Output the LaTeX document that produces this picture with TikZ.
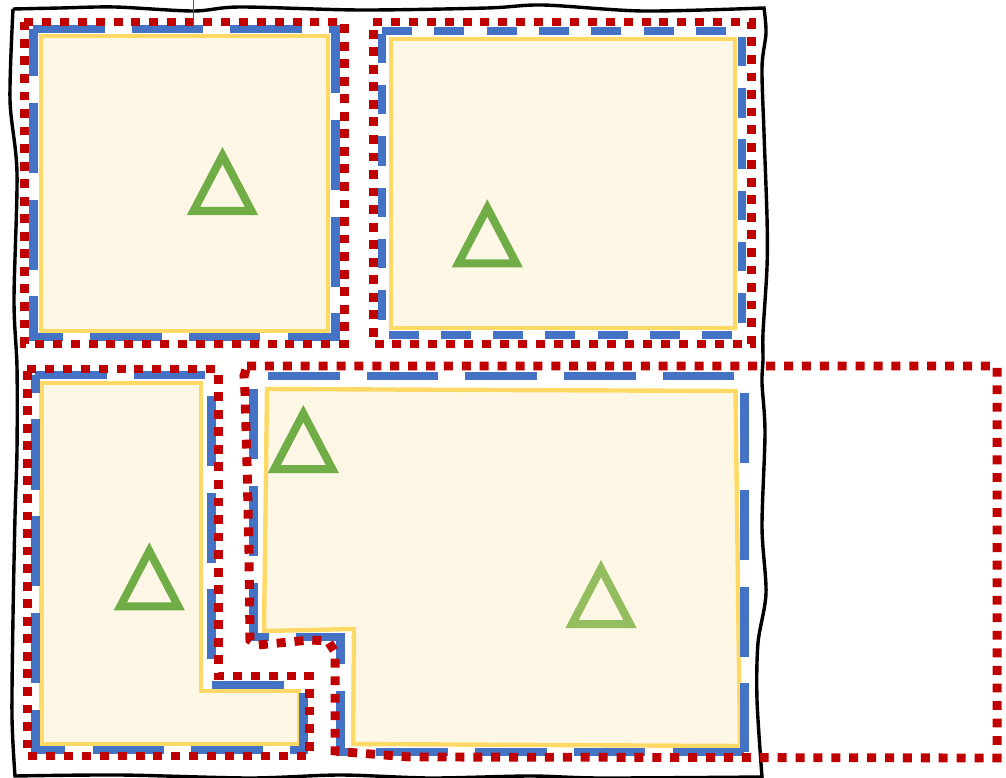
\documentclass[tikz,border=0pt]{standalone}
\usepackage{amsmath,amssymb}

\definecolor{regionred}{HTML}{C00000}
\definecolor{regionblue}{HTML}{4472C4}
\definecolor{regionyellow}{HTML}{FFD966}
\definecolor{regionfill}{HTML}{FFF7E6}
\definecolor{markgreen}{HTML}{70AD47}
\definecolor{marklight}{HTML}{93BD5E}

\begin{document}
\begin{tikzpicture}[x=1pt, y=-1pt,
	outerline/.style={black, line width=3.4pt, line join=miter},
	redline/.style={regionred, line width=9pt, dash pattern=on 9pt off 8.9pt},
	blueline/.style={regionblue, line width=9pt, dash pattern=on 71.5pt off 27.2pt},
	bluefine/.style={regionblue, line width=7.5pt, dash pattern=on 30pt off 22.3pt},
	cellbox/.style={draw=regionyellow, fill=regionfill, line width=4.4pt},
	trimark/.style={line width=8pt, line join=miter}]
	\useasboundingbox (0,0) rectangle (1006,778);
	% hand-drawn frame
	\draw[outerline] plot[smooth, tension=0.5] coordinates {(13,9) (60,8) (115,7) (193,11) (240,7) (360,10) (487,8) (543,5) (643,11) (764,8)}
		-- plot[smooth, tension=0.5] coordinates {(764,8) (766,33) (762,67) (764,133) (767,217) (767,267) (763,333) (763,360) (762,383) (765,433) (762,527) (766,593) (758,643) (757,700) (762,777)}
		-- plot[smooth, tension=0.5] coordinates {(762,777) (600,778) (530,776) (430,778) (340,775) (250,778) (120,775) (15,776)}
		-- plot[smooth, tension=0.5] coordinates {(15,776) (12,717) (13,617) (15,517) (17,450) (17,367) (14,300) (17,173) (10,100) (13,9)};
	% cells
	\draw[cellbox] (41,36) -- (328,36) -- (328,331) -- (41,331) -- cycle;
	\draw[cellbox] (391,39) -- (735,39) -- (735,328) -- (391,328) -- cycle;
	\draw[cellbox] (41.5,383) -- (201,383) -- (201,691) -- (299,691) -- (299,744) -- (41.5,744) -- cycle;
	\draw[cellbox] (267,389) -- (735.5,391) -- (740,746) -- (353,744) -- (354,629) -- (264,631) -- cycle;
	% triangles
	\foreach \tx/\ty in {222.5/155.6, 487.3/208, 149.3/551, 303.3/413.6}
		\draw[trimark, markgreen] (\tx,\ty) -- ++(-29,55.4) -- ++(58,0) -- cycle;
	\draw[trimark, marklight] (601,568.6) -- ++(-29,55.4) -- ++(58,0) -- cycle;
	% dashed outlines, squeezed a little in height so the dashes come out shorter on the uprights
	\begin{scope}[y=-1.020408pt, transform canvas={yscale=0.98}]
		\draw[blueline] (33,29) -- (335,29) -- (335,337) -- (33,337) -- cycle;
		\draw[bluefine] (382,31) -- (742,31) -- (742,335) -- (382,335) -- cycle;
		\draw[blueline] (35,375) -- (211,375) -- (211,685) -- (303,685) -- (303,750) -- (35,750) -- cycle;
		\draw[blueline] (268,376) -- (744,376) -- (744,752);
		\draw[blueline] (744,752) -- (340,752) -- (340,637) -- (253,637) -- (253,376);
		\draw[redline] (24,22) -- (344,22) -- (344,344) -- (24,344) -- cycle;
		\draw[redline] (373,22) -- (751,22) -- (751,344) -- (373,344) -- cycle;
		\draw[redline] (27,369) -- (218,369) -- (218,676) -- (309,676) -- (309,756) -- (27,756) -- cycle;
		\draw[redline] (247,366) -- (997,366) -- (997,758) -- (410,757) -- (345,752) -- (335,751) -- (335,652) -- (328,641) -- (310,640) -- (258,645) -- (250,640) -- (249,552) -- (247,464) -- (245,393) -- (244,376) -- cycle;
	\end{scope}
	% lead line at the top
	\coordinate (leadtop) at (193.5,0);
	\coordinate (leadend) at (193.5,28);
	\draw[black!65, line width=1pt] (leadtop) -- (leadend);
\end{tikzpicture}
\end{document}
